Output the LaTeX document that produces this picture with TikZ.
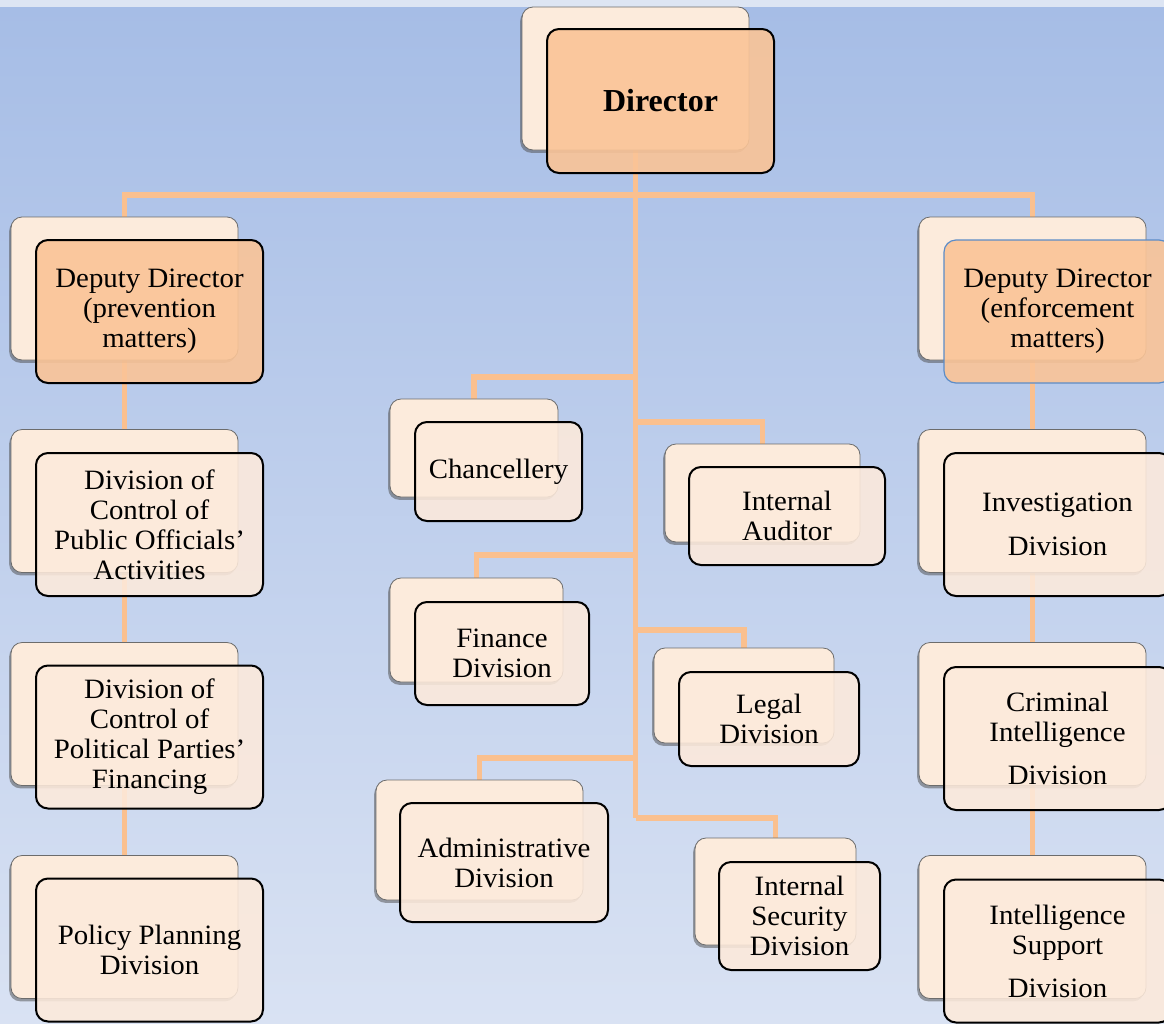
\documentclass[tikz,border=0pt]{standalone}
\usepackage{fontspec}
\setmainfont{Liberation Serif}
\newfontfamily\widefont[FakeStretch=1.03]{Liberation Serif}
\usetikzlibrary{shadows}
\definecolor{bgTop}{HTML}{A6BDE6}
\definecolor{bgBot}{HTML}{D9E2F3}
\definecolor{bgStrip}{HTML}{DDE5F3}
\definecolor{lineOr}{HTML}{FAC08F}
\definecolor{peachB}{HTML}{FCEBDC}
\definecolor{peachF}{HTML}{FDEADB}
\definecolor{orangeF}{HTML}{FAC497}
\definecolor{blueEdge}{HTML}{5B8CC8}
\pgfdeclarelayer{canvas}
\pgfdeclarelayer{wires}
\pgfsetlayers{canvas,wires,main}
\begin{document}
\begin{tikzpicture}[x=1pt,y=-1pt,
  conn/.style={draw=lineOr,line width=5.5pt},
  backbox/.style={rounded corners=11pt, fill=peachB, draw=gray!85!black, line width=0.8pt,
    drop shadow={shadow xshift=-1.8pt,shadow yshift=-2.8pt,opacity=0.5,fill=black!70},
    inner sep=0pt},
  frontbox/.style={rounded corners=12pt, fill=peachF, fill opacity=0.88, text opacity=1,
    draw=black, line width=2pt, inner sep=0pt, align=center,
    font=\widefont\fontsize{28}{30}\selectfont},
  headbox/.style={frontbox, fill=orangeF, fill opacity=0.9},
  sz/.style 2 args={minimum width=#1pt, minimum height=#2pt},
]
\useasboundingbox (0,0) rectangle (1164,1023);
\begin{pgfonlayer}{canvas}
  \shade[top color=bgTop, bottom color=bgBot] (0,7) rectangle (1164,1023);
  \fill[bgStrip] (0,0) rectangle (1164,7);
\end{pgfonlayer}

% ---------- back boxes ----------
\node[backbox, sz={227}{143}] (dirB) at (635.5,78.5) {};
% left column
\node[backbox, sz={227}{143}] (ddpB) at (124.5,288.5) {};
\node[backbox, sz={227}{143}] (pubB) at (124.5,501) {};
\node[backbox, sz={227}{143}] (polB) at (124.5,714) {};
\node[backbox, sz={227}{143}] (ppB)  at (124.5,927) {};
% right column
\node[backbox, sz={227}{143}] (ddeB) at (1032.5,288.5) {};
\node[backbox, sz={227}{143}] (invB) at (1032.5,501) {};
\node[backbox, sz={227}{143}] (criB) at (1032.5,714) {};
\node[backbox, sz={227}{143}] (isdB) at (1032.5,927) {};
% middle
\node[backbox, sz={168}{98}]  (chB)  at (474,448) {};
\node[backbox, sz={195}{98}]  (audB) at (762.5,493) {};
\node[backbox, sz={173}{104}] (finB) at (476.5,630) {};
\node[backbox, sz={180}{95}]  (legB) at (744,695.5) {};
\node[backbox, sz={207}{120}] (admB) at (479.5,840) {};
\node[backbox, sz={161}{107}] (secB) at (775.5,891.5) {};

% ---------- front boxes ----------
\node[headbox, sz={227}{144}, font=\bfseries\fontsize{32}{34}\selectfont] (dirF) at (660.5,101) {Director};
\node[headbox, sz={227}{143}] (ddpF) at (149.5,311.5) {Deputy Director\\(prevention\\matters)};
\node[frontbox, sz={227}{143}] (pubF) at (149.5,524.5) {Division of\\Control of\\Public Officials’\\Activities};
\node[frontbox, sz={227}{143}] (polF) at (149.5,737) {Division of\\Control of\\Political Parties’\\Financing};
\node[frontbox, sz={227}{143}] (ppF)  at (149.5,950) {Policy Planning\\Division};

\node[headbox, sz={227}{143}, draw=blueEdge, line width=1.2pt] (ddeF) at (1057.5,311.5) {Deputy Director\\(enforcement\\matters)};
\node[frontbox, sz={227}{143}] (invF) at (1057.5,524.5) {Investigation\\[14pt]Division};
\node[frontbox, sz={227}{143}] (criF) at (1057.5,738.5) {Criminal\\Intelligence\\[13pt]Division};
\node[frontbox, sz={227}{143}] (isdF) at (1057.5,951) {Intelligence\\Support\\[13pt]Division};

\node[frontbox, sz={167}{99}]  (chF)  at (498.5,471.5) {Chancellery};
\node[frontbox, sz={196}{98}]  (audF) at (787,516) {Internal\\Auditor};
\node[frontbox, sz={174}{103}] (finF) at (502,653.5) {Finance\\Division};
\node[frontbox, sz={180}{94}]  (legF) at (769,719) {Legal\\Division};
\node[frontbox, sz={208}{119}] (admF) at (504,862.5) {Administrative\\Division};
\node[frontbox, sz={161}{108}] (secF) at (799.5,916) {Internal\\Security\\Division};

% ---------- connectors ----------
\coordinate (hub)  at (635.5,195);
\coordinate (tEnd) at (635.5,818);
\coordinate (bCh)  at (635.5,377);
\coordinate (bAud) at (635.5,422);
\coordinate (bFin) at (635.5,555);
\coordinate (bLeg) at (635.5,630);
\coordinate (bAdm) at (635.5,758);
\coordinate (bSec) at (635.5,818);
\begin{pgfonlayer}{wires}
  \draw[conn] (dirB.south) -- (tEnd);
  \draw[conn] (ddpB.north) |- (hub) -| (ddeB.north);
  \draw[conn] (ddpB.north) -- (ppB.north);
  \draw[conn] (ddeB.north) -- (isdB.north);
  \draw[conn] (chB.north)  |- (bCh);
  \draw[conn] (audB.north) |- (bAud);
  \draw[conn] (finB.north) |- (bFin);
  \draw[conn] (legB.north) |- (bLeg);
  \draw[conn] (admB.north) |- (bAdm);
  \draw[conn] (secB.north) |- (bSec);
\end{pgfonlayer}
\end{tikzpicture}
\end{document}
